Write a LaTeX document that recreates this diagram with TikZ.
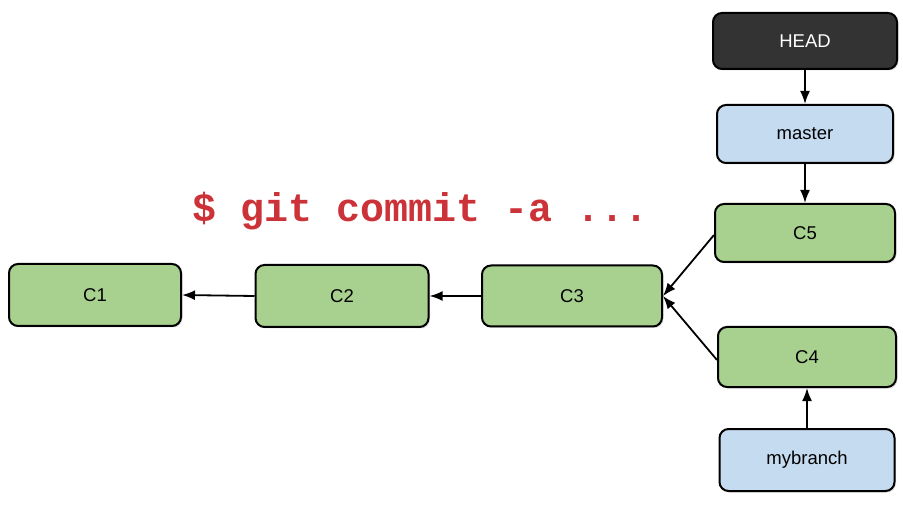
\documentclass[tikz,border=0pt]{standalone}
\usepackage{fontspec}
\setmainfont{Liberation Sans}
\newfontfamily\codefont{Liberation Mono}
\usetikzlibrary{arrows.meta,shadows}
\definecolor{cgreen}{HTML}{A8D08F}
\definecolor{cblue}{HTML}{C5DBF0}
\definecolor{cdark}{HTML}{333333}
\definecolor{cred}{HTML}{CC3338}
\begin{document}
\begin{tikzpicture}[x=1pt,y=1pt,
  box/.style={draw=black, line width=2pt, rounded corners=9pt, minimum height=58pt, font=\fontsize{18.5}{20}\selectfont, drop shadow={shadow xshift=1.5pt, shadow yshift=-1.5pt, opacity=0.25}},
  commit/.style={box, fill=cgreen, minimum width=175pt},
  branch/.style={box, fill=cblue, minimum width=176pt},
  headbox/.style={box, fill=cdark, text=white, minimum width=184pt, minimum height=56pt},
  conn/.style={-{Latex[length=13pt,width=10pt]}, line width=1.8pt}
]
\useasboundingbox (0,0) rectangle (903,-505);
\node[headbox] (head) at (805,-41) {HEAD};
\node[branch] (master) at (805,-134) {master};
\node[commit, minimum width=180pt] (c5) at (805,-233) {C5};
\node[commit, minimum width=178pt, minimum height=60pt] (c4) at (807,-357) {C4};
\node[branch, minimum width=175pt, minimum height=62pt] (mybranch) at (807,-460) {mybranch};
\node[commit, minimum width=180pt, minimum height=61pt] (c3) at (572,-296) {C3};
\node[commit, minimum width=173pt, minimum height=62pt] (c2) at (342,-296) {C2};
\node[commit, minimum width=172pt, minimum height=62pt] (c1) at (95,-295) {C1};
\node[font=\codefont\bfseries\fontsize{40}{42}\selectfont, text=cred, anchor=base west, inner sep=0pt] (cmd) at (192,-222) {\$ git commit -a ...};
\draw[conn] (head) -- (master);
\draw[conn] (master) -- (c5);
\draw[conn] (mybranch) -- (c4);
\draw[conn] (c2.west) -- (c1.east);
\draw[conn] (c3.west) -- (c2.east);
\draw[conn] (c5.west) ++(0,-2) -- (c3.east);
\draw[conn] (c4.west) ++(0,-3) -- (c3.east);
\end{tikzpicture}
\end{document}
